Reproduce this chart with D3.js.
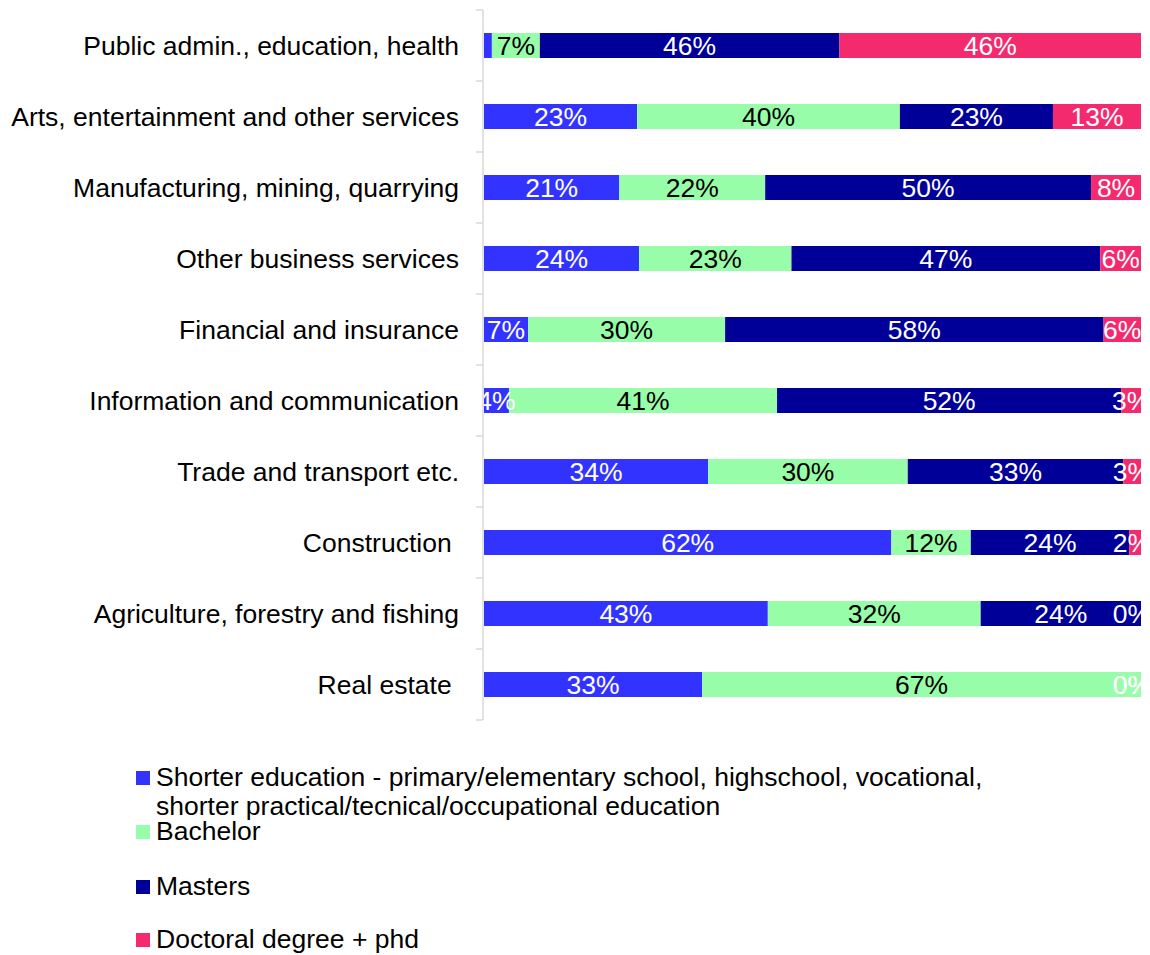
<!DOCTYPE html>
<html>
<head>
<meta charset="utf-8">
<script src="https://cdn.jsdelivr.net/npm/d3@7"></script>
<style>
  body { margin: 0; background: #fff; }
  text { font-family: "Liberation Sans", Arial, sans-serif; }
</style>
</head>
<body>
<script>
// Categories, top to bottom
var categories = [
  "Public admin., education, health",
  "Arts, entertainment and other services",
  "Manufacturing, mining, quarrying",
  "Other business services",
  "Financial and insurance",
  "Information and communication",
  "Trade and transport etc.",
  "Construction ",
  "Agriculture, forestry and fishing",
  "Real estate "
];

// Share of employees (%) per education level
var shorter  = [1.2, 23.3, 20.6, 23.6, 6.7, 3.8, 34.1, 62.0, 43.2, 33.2];
var bachelor = [7.3, 40.0, 22.2, 23.2, 30.0, 40.8, 30.4, 12.1, 32.4, 66.8];
var masters  = [45.6, 23.3, 49.6, 47.0, 57.6, 52.4, 32.8, 24.1, 24.4, 0];
var doctoral = [45.9, 13.4, 7.6, 6.2, 5.7, 3.0, 2.7, 1.8, 0, 0];

var seriesNames = [
  ["Shorter education - primary/elementary school, highschool, vocational,",
   "shorter practical/tecnical/occupational education"],
  ["Bachelor"],
  ["Masters"],
  ["Doctoral degree + phd"]
];
var seriesValues = [shorter, bachelor, masters, doctoral];
var seriesColors = ["#3333ff", "#97fda9", "#000099", "#f42a6e"];
var labelColors = ["#fff", "#000", "#fff", "#fff"];

var width = 1150, height = 955;
var plotLeft = 484, plotRight = 1141, plotTop = 10, plotBottom = 720;
var fontSize = 26.5;

var svg = d3.select("body").append("svg")
    .attr("width", width)
    .attr("height", height);

var x = d3.scaleLinear().domain([0, 100]).range([plotLeft, plotRight]);
var y = d3.scaleBand().domain(categories).range([plotTop, plotBottom])
    .paddingInner(0.648).paddingOuter(0.324);

// table of rows for the stack
var rows = categories.map(function(c, i) {
  var r = { cat: c };
  seriesValues.forEach(function(s, k) { r["s" + k] = s[i]; });
  return r;
});
var stack = d3.stack().keys(seriesValues.map(function(s, k) { return "s" + k; }));
var layers = stack(rows);

svg.append("clipPath").attr("id", "plot")
  .append("rect")
    .attr("x", plotLeft).attr("y", 0)
    .attr("width", plotRight - plotLeft).attr("height", plotBottom);

// axis line and ticks at band boundaries
var axis = svg.append("g").attr("stroke", "#d9d9d9").attr("stroke-width", 1.5);
axis.append("line")
    .attr("x1", plotLeft - 1).attr("x2", plotLeft - 1)
    .attr("y1", plotTop).attr("y2", plotBottom);
var bounds = categories.map(function(c) { return y(c) - y.step() * y.paddingOuter(); });
bounds.push(plotBottom);
axis.selectAll("line.tick").data(bounds).enter().append("line")
    .attr("class", "tick")
    .attr("x1", plotLeft - 8).attr("x2", plotLeft - 1)
    .attr("y1", function(d) { return d; })
    .attr("y2", function(d) { return d; });

// category labels
svg.append("g").selectAll("text").data(categories).enter().append("text")
    .attr("x", 459)
    .attr("y", function(d) { return y(d) + y.bandwidth() / 2; })
    .attr("dy", "0.35em")
    .attr("text-anchor", "end")
    .style("white-space", "pre")
    .attr("font-size", fontSize)
    .attr("fill", "#000")
    .text(function(d) { return d; });

var plot = svg.append("g").attr("clip-path", "url(#plot)");

// bars
layers.forEach(function(layer, k) {
  plot.append("g").attr("fill", seriesColors[k])
    .selectAll("rect").data(layer).enter().append("rect")
      .attr("x", function(d) { return x(d[0]); })
      .attr("y", function(d) { return y(d.data.cat); })
      .attr("width", function(d) { return x(d[1]) - x(d[0]); })
      .attr("height", y.bandwidth());
});

// value labels (kept a little inside the right edge, like the original)
layers.forEach(function(layer, k) {
  plot.append("g")
    .selectAll("text")
    .data(layer.filter(function(d) { var v = d[1] - d[0]; return v === 0 || v >= 1.5; }))
    .enter().append("text")
      .attr("x", function(d) { return Math.min(x((d[0] + d[1]) / 2), plotRight - 9); })
      .attr("y", function(d) { return y(d.data.cat) + y.bandwidth() / 2; })
      .attr("dy", "0.35em")
      .attr("text-anchor", "middle")
      .attr("font-size", fontSize)
      .attr("fill", labelColors[k])
      .text(function(d) { return Math.round(d[1] - d[0]) + "%"; });
});

// legend
var legendY = [786, 840, 895, 948];
var legend = svg.append("g");
seriesNames.forEach(function(lines, k) {
  legend.append("rect")
    .attr("x", 136).attr("y", legendY[k] - 15)
    .attr("width", 14).attr("height", 14)
    .attr("fill", seriesColors[k]);
  lines.forEach(function(t, j) {
    legend.append("text")
      .attr("x", 156).attr("y", legendY[k] + j * 29)
      .attr("font-size", fontSize)
      .attr("fill", "#000")
      .text(t);
  });
});
</script>
</body>
</html>
